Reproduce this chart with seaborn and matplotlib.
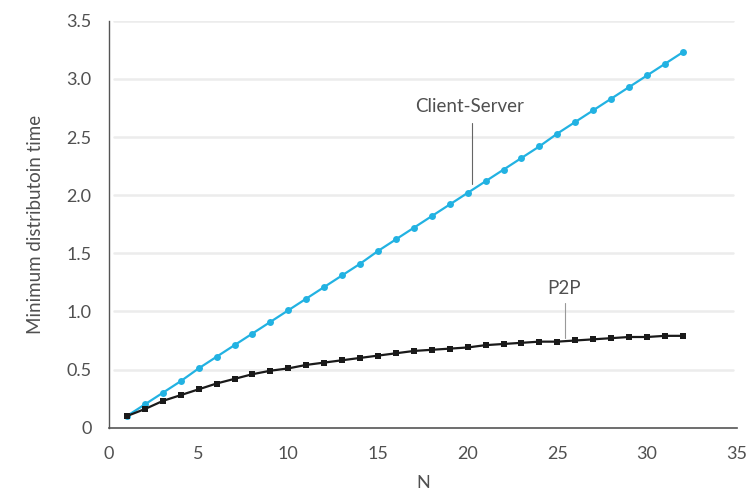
import seaborn as sns
import matplotlib.pyplot as plt
import pandas as pd

n_values = list(range(1, 33))
client_server = [0.10, 0.20, 0.30, 0.40, 0.51, 0.61, 0.71, 0.81, 0.91, 1.01,
                 1.11, 1.21, 1.31, 1.41, 1.52, 1.62, 1.72, 1.82, 1.92, 2.02,
                 2.12, 2.22, 2.32, 2.42, 2.53, 2.63, 2.73, 2.83, 2.93, 3.03,
                 3.13, 3.23]
p2p = [0.10, 0.16, 0.23, 0.28, 0.33, 0.38, 0.42, 0.46, 0.49, 0.51,
       0.54, 0.56, 0.58, 0.60, 0.62, 0.64, 0.66, 0.67, 0.68, 0.69,
       0.71, 0.72, 0.73, 0.74, 0.74, 0.75, 0.76, 0.77, 0.78, 0.78,
       0.79, 0.79]
y_ticks = [0, 0.5, 1.0, 1.5, 2.0, 2.5, 3.0, 3.5]
y_tick_labels = ['0', '0.5', '1.0', '1.5', '2.0', '2.5', '3.0', '3.5']
x_ticks = [0, 5, 10, 15, 20, 25, 30, 35]

df = pd.DataFrame({'N': n_values, 'Client-Server': client_server, 'P2P': p2p})

sns.set_style('white')
plt.rcParams['font.family'] = ['Lato', 'DejaVu Sans']

fig = plt.figure(figsize=(7.5, 4.95), dpi=100)
ax = fig.add_axes([0.1453, 0.136, 0.837, 0.822])

sns.lineplot(data=df, x='N', y='Client-Server', ax=ax, color='#22b2e2',
             marker='o', markersize=5, markeredgewidth=0, linewidth=1.6, zorder=3)
sns.lineplot(data=df, x='N', y='P2P', ax=ax, color='#1a1a1a',
             marker='s', markersize=5, markeredgewidth=0, linewidth=1.6, zorder=4)

ax.set_xlim(0, 35)
ax.set_ylim(0, 3.5)
ax.set_yticks(y_ticks)
ax.set_yticklabels(y_tick_labels)
ax.set_xticks(x_ticks)

# light horizontal guide lines
for y in y_ticks[1:]:
    ax.plot([0.3, 34.8], [y, y], color='#ececec', linewidth=1.8, zorder=1)

txt = '#505050'
ax.set_xlabel('N', fontsize=13, color=txt, labelpad=9)
ax.set_ylabel('Minimum distributoin time', fontsize=13.5, color=txt, labelpad=16)
ax.tick_params(axis='y', direction='out', length=9.5, width=1, color='#555555',
               labelsize=13, labelcolor=txt, pad=3)
ax.tick_params(axis='x', direction='out', length=9.5, width=1.2, color='#cccccc',
               labelsize=13, labelcolor=txt, pad=4)
ax.xaxis.get_major_ticks()[0].tick1line.set_color('#555555')

sns.despine(ax=ax)
ax.spines['left'].set_color('#555555')
ax.spines['bottom'].set_color('#555555')
ax.spines['left'].set_linewidth(1)
ax.spines['bottom'].set_linewidth(1.2)

ax.text(20.1, 2.76, 'Client-Server', fontsize=13.5, color=txt, ha='center', va='center')
ax.plot([20.25, 20.25], [2.10, 2.62], color='#666666', linewidth=0.8)
ax.text(25.4, 1.20, 'P2P', fontsize=13.5, color=txt, ha='center', va='center')
ax.plot([25.4, 25.4], [0.77, 1.07], color='#999999', linewidth=0.8)

plt.savefig('out.png', dpi=100)
